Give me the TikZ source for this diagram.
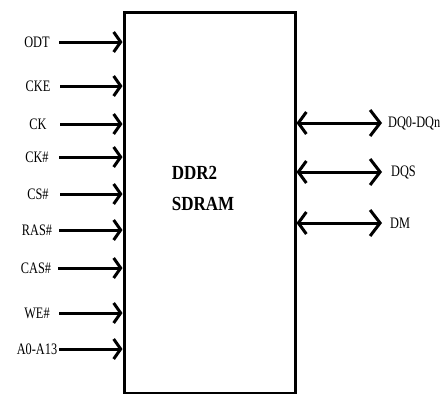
\documentclass[tikz,border=0pt]{standalone}
\usepackage{fontspec}
\setmainfont{Liberation Serif}
\newfontfamily\pinfont[FakeStretch=0.77]{Liberation Serif}
\newfontfamily\chipfont[FakeStretch=0.85]{Liberation Serif}
\usetikzlibrary{arrows.meta,positioning}

\begin{document}
\begin{tikzpicture}[
  x=1pt,y=-1pt,
  chip/.style={draw,line width=3pt,minimum width=171pt,minimum height=381.5pt,inner sep=0pt},
  pin/.style={minimum width=44pt,inner sep=0pt,font=\pinfont\fontsize{16}{18}\selectfont},
  bus/.style={anchor=west,inner sep=0pt,font=\pinfont\fontsize{16}{18}\selectfont},
  arr/.style={-{Straight Barb[length=7pt,width=20pt]},line width=3pt},
  darr/.style={{Straight Barb[length=8pt,width=22pt]}-{Straight Barb[length=10pt,width=26pt]},line width=3pt}
]
  \useasboundingbox (0,0) rectangle (445,394);
  \node[chip] (ram) at (209.5,202.75) {};
  \node[align=left,inner sep=0pt,font=\chipfont\bfseries\fontsize{20}{31}\selectfont] (name) at (203,188) {DDR2\\SDRAM};
  % input pins
  \node[pin] (odt) at (37,42) {ODT};
  \node[pin] (cke) at (38,86) {CKE};
  \node[pin] (ck) at (38,124) {CK};
  \node[pin] (ckn) at (37,157) {CK\#};
  \node[pin] (csn) at (38,194) {CS\#};
  \node[pin] (rasn) at (37,230) {RAS\#};
  \node[pin] (casn) at (36,268) {CAS\#};
  \node[pin] (wen) at (37,313) {WE\#};
  \node[pin] (addr) at (37,349) {A0-A13};
  \foreach \p in {odt,cke,ck,ckn,csn,rasn,casn,wen,addr}
    \draw[arr] (\p.east) -- (\p.east -| ram.west);
  % data pins
  \node[bus] (dq) at (388,123) {DQ0-DQn};
  \node[bus] (dqs) at (391,172) {DQS};
  \node[bus] (dm) at (390,223) {DM};
  \foreach \p in {dq,dqs,dm}
    \draw[darr] (\p.west -| ram.east) -- (\p.west -| 382,0);
\end{tikzpicture}
\end{document}
